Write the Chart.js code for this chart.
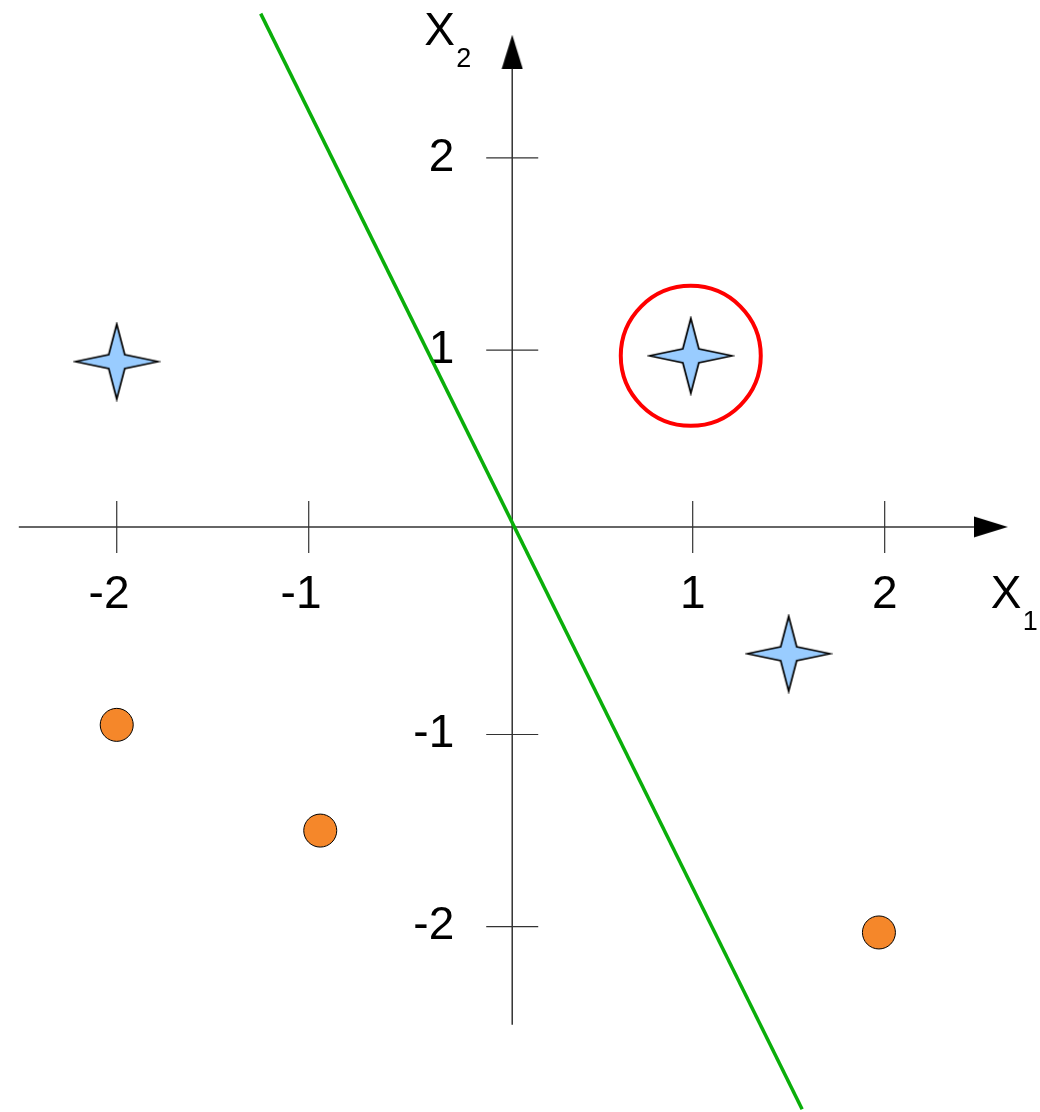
<!DOCTYPE html>
<html>
<head>
<meta charset="utf-8">
<script src="https://cdn.jsdelivr.net/npm/chart.js@4/dist/chart.umd.min.js"></script>
<style>
  html, body { margin: 0; padding: 0; background: #fff; }
  #wrap { width: 1040px; height: 1112px; position: relative; }
</style>
</head>
<body>
<div id="wrap"><canvas id="chart"></canvas></div>
<script>
// class +1 (stars) and class -1 (dots)
var starX = [-2.0, 0.99, 1.50];
var starY = [0.94, 0.97, -0.58];
var dotX = [-2.0, -0.94, 1.97];
var dotY = [-0.95, -1.50, -2.03];

// the point that is circled
var markX = [0.99];
var markY = [0.97];

// separating line, drawn between its two ends
var sepX = [-1.25, 1.57];
var sepY = [2.75, -2.95];

// tick labels on both axes
var xTicks = [-2, -1, 1, 2];
var yTicks = [2, 1, -1, -2];

// where the axes cross, and how far they run
var axisX = 0.06;
var axisY = 0.08;
var xAxisEnds = [-2.51, 2.465];
var yAxisEnds = [-2.51, 2.463];
var xArrowAt = 2.553;
var yArrowAt = 2.552;

function pts(xs, ys) {
    return xs.map(function(x, i) { return { x: x, y: ys[i] }; });
}

function makeStar() {
    var c = document.createElement('canvas');
    c.width = 88; c.height = 80;
    var g = c.getContext('2d');
    var cx = 44, cy = 40, w = 41.5, h = 37.5, iw = 8, ih = 7;
    g.beginPath();
    g.moveTo(cx - w, cy);
    g.lineTo(cx - iw, cy - ih);
    g.lineTo(cx, cy - h);
    g.lineTo(cx + iw, cy - ih);
    g.lineTo(cx + w, cy);
    g.lineTo(cx + iw, cy + ih);
    g.lineTo(cx, cy + h);
    g.lineTo(cx - iw, cy + ih);
    g.closePath();
    g.fillStyle = '#99ccff';
    g.fill();
    g.lineWidth = 1.7;
    g.strokeStyle = '#000';
    g.lineJoin = 'miter';
    g.stroke();
    return c;
}

function makeArrow(dir) {
    var c = document.createElement('canvas');
    var g = c.getContext('2d');
    if (dir === 'right') {
        c.width = 34; c.height = 22;
    } else {
        c.width = 22; c.height = 34;
    }
    g.fillStyle = '#000';
    g.beginPath();
    if (dir === 'right') {
        g.moveTo(0, 0.5); g.lineTo(34, 11); g.lineTo(0, 21.5);
    } else {
        g.moveTo(0.5, 34); g.lineTo(11, 0); g.lineTo(21.5, 34);
    }
    g.closePath();
    g.fill();
    return c;
}

// text goes under the marks, so the green line crosses the "1"
var labelPlugin = {
    id: 'axisLabels',
    beforeDatasetsDraw: function(chart) {
        var ctx = chart.ctx;
        var xs = chart.scales.x, ys = chart.scales.y;
        var px0 = xs.getPixelForValue(axisX);
        var py0 = ys.getPixelForValue(axisY);
        ctx.save();
        ctx.fillStyle = '#000';
        ctx.font = '46px "Liberation Sans", Arial, sans-serif';
        ctx.textBaseline = 'middle';

        // x tick labels: digit centred under the tick, minus hangs left
        xTicks.forEach(function(v) {
            var digit = String(Math.abs(v));
            var dw = ctx.measureText(digit).width;
            ctx.textAlign = 'right';
            ctx.fillText(String(v), xs.getPixelForValue(v) + dw / 2, py0 + 68);
        });

        // y tick labels to the left of the axis
        yTicks.forEach(function(v) {
            ctx.textAlign = 'right';
            ctx.fillText(String(v), px0 - 58, ys.getPixelForValue(v));
        });

        // axis names with subscripts
        ctx.textBaseline = 'alphabetic';
        ctx.textAlign = 'left';
        var tipY = ys.getPixelForValue(yArrowAt) - 17;
        var tipX = xs.getPixelForValue(xArrowAt) + 17;
        ctx.fillText('X', px0 - 88, tipY + 10);
        ctx.fillText('X', tipX - 17, py0 + 81);
        ctx.font = '27px "Liberation Sans", Arial, sans-serif';
        ctx.fillText('2', px0 - 56, tipY + 32);
        ctx.fillText('1', tipX + 15, py0 + 103);
        ctx.restore();
    }
};

var axisColor = '#333';

new Chart(document.getElementById('chart'), {
    type: 'scatter',
    data: {
        datasets: [
            { // class +1
                data: pts(starX, starY),
                pointStyle: makeStar(),
                pointRadius: 40,
                order: 0
            },
            { // class -1
                data: pts(dotX, dotY),
                pointStyle: 'circle',
                pointRadius: 16.5,
                backgroundColor: '#f5872a',
                borderColor: '#000',
                borderWidth: 1,
                order: 1
            },
            { // highlighted point
                data: pts(markX, markY),
                pointStyle: 'circle',
                pointRadius: 70,
                backgroundColor: 'rgba(0,0,0,0)',
                borderColor: '#ff0000',
                borderWidth: 4,
                order: 2
            },
            { // separating line
                data: pts(sepX, sepY),
                showLine: true,
                borderColor: '#0aae0a',
                borderWidth: 3.5,
                pointRadius: 0,
                order: 3
            },
            { // x ticks
                data: xTicks.map(function(v) { return { x: v, y: axisY }; }),
                pointStyle: 'line',
                rotation: 90,
                pointRadius: 26,
                borderColor: axisColor,
                borderWidth: 1.2,
                order: 4
            },
            { // y ticks
                data: yTicks.map(function(v) { return { x: axisX, y: v }; }),
                pointStyle: 'line',
                pointRadius: 26,
                borderColor: axisColor,
                borderWidth: 1.2,
                order: 4
            },
            { // x axis
                data: pts(xAxisEnds, [axisY, axisY]),
                showLine: true,
                borderColor: axisColor,
                borderWidth: 1.5,
                pointRadius: 0,
                order: 5
            },
            { // y axis
                data: pts([axisX, axisX], yAxisEnds),
                showLine: true,
                borderColor: axisColor,
                borderWidth: 1.5,
                pointRadius: 0,
                order: 5
            },
            { // x arrow
                data: [{ x: xArrowAt, y: axisY }],
                pointStyle: makeArrow('right'),
                pointRadius: 17,
                order: 5
            },
            { // y arrow
                data: [{ x: axisX, y: yArrowAt }],
                pointStyle: makeArrow('up'),
                pointRadius: 17,
                order: 5
            }
        ]
    },
    options: {
        responsive: true,
        maintainAspectRatio: false,
        animation: false,
        events: [],
        layout: { padding: 0, autoPadding: false },
        plugins: {
            legend: { display: false },
            tooltip: { enabled: false }
        },
        scales: {
            x: { type: 'linear', min: -2.608, max: 2.809, display: false },
            y: { type: 'linear', min: -2.964, max: 2.821, display: false }
        }
    },
    plugins: [labelPlugin]
});
</script>
</body>
</html>
